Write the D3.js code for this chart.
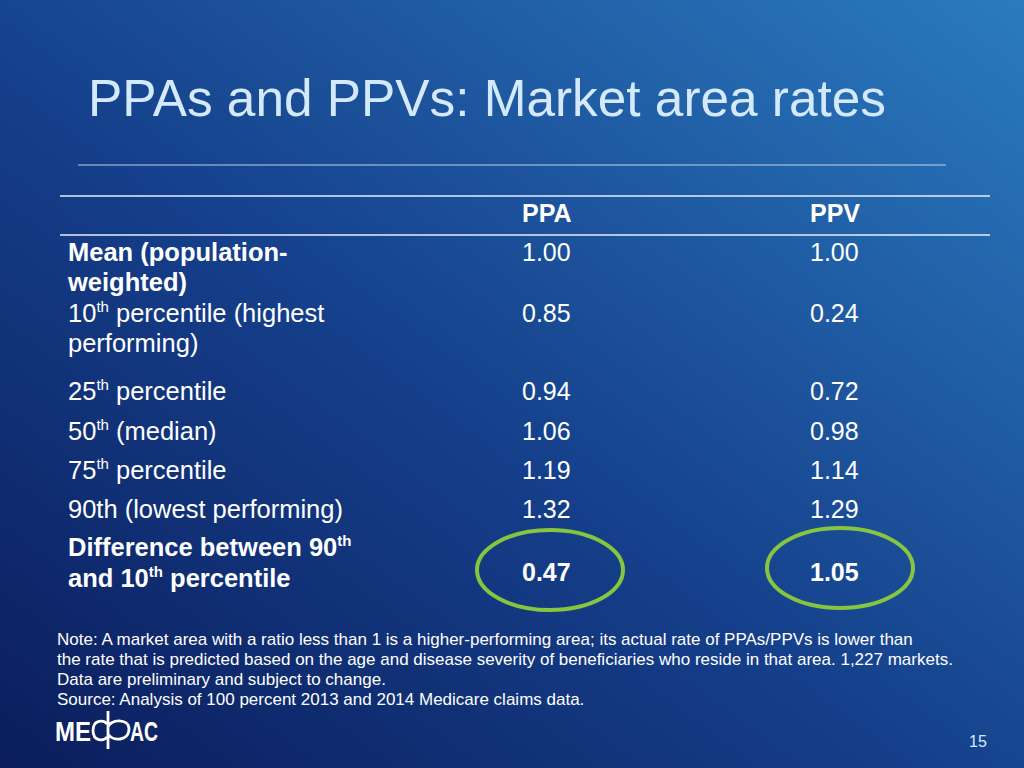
<!DOCTYPE html>
<html><head><meta charset="utf-8">
<script src="https://cdn.jsdelivr.net/npm/d3@7"></script>
<style>html,body{margin:0;padding:0;overflow:hidden;background:#153a82}</style>
</head><body>
<svg id="c" width="1024" height="768"></svg>
<script>
// ---- data ----
const title = "PPAs and PPVs: Market area rates";
const columns = ["PPA", "PPV"];
// row labels: each row is a list of lines; "^th" marks superscript
const rowLabels = [
  ["Mean (population-", "weighted)"],
  ["10^th percentile (highest", "performing)"],
  ["25^th percentile"],
  ["50^th (median)"],
  ["75^th percentile"],
  ["90th (lowest performing)"],
  ["Difference between 90^th", "and 10^th percentile"]
];
const rowBold = [true, false, false, false, false, false, true];
const ppaValues = ["1.00", "0.85", "0.94", "1.06", "1.19", "1.32", "0.47"];
const ppvValues = ["1.00", "0.24", "0.72", "0.98", "1.14", "1.29", "1.05"];
const highlightRows = [6];
const noteLines = [
  "Note: A market area with a ratio less than 1 is a higher-performing area; its actual rate of PPAs/PPVs is lower than",
  "the rate that is predicted based on the age and disease severity of beneficiaries who reside in that area. 1,227 markets.",
  "Data are preliminary and subject to change.",
  "Source: Analysis of 100 percent 2013 and 2014 Medicare claims data."
];
const pageNumber = "15";

// ---- layout ----
const svg = d3.select("#c");
const defs = svg.append("defs");
const grad = defs.append("linearGradient").attr("id","bg")
  .attr("x1","0").attr("y1","1").attr("x2","1").attr("y2","0");
grad.append("stop").attr("offset","0%").attr("stop-color","#0b1d5c");
grad.append("stop").attr("offset","45%").attr("stop-color","#153f8a");
grad.append("stop").attr("offset","100%").attr("stop-color","#2b7bbf");
svg.append("rect").attr("width",1024).attr("height",768).attr("fill","url(#bg)");

const font = "'Liberation Sans', Arial, sans-serif";

svg.append("text").attr("x",88).attr("y",116).text(title)
  .attr("font-family",font).attr("font-size",52).attr("fill","#d4eafc")
  .attr("textLength",798).attr("lengthAdjust","spacingAndGlyphs");

svg.append("line").attr("x1",78).attr("x2",946).attr("y1",165).attr("y2",165)
  .attr("stroke","#dfeaf6").attr("stroke-width",1.2).attr("opacity",0.85);

// table rules
[196, 235].forEach(y => svg.append("line").attr("x1",60).attr("x2",990).attr("y1",y).attr("y2",y)
  .attr("stroke","#e6eef8").attr("stroke-width",1.5));

const colX = d3.scalePoint().domain(columns).range([522, 810]);
const fs = 25;
const labelFs = 25.5;

svg.selectAll("text.hdr").data(columns).join("text").attr("class","hdr")
  .attr("x", d => colX(d)).attr("y", 222).text(d => d)
  .attr("font-family",font).attr("font-size",fs).attr("font-weight","bold").attr("fill","#fff");

// row baseline positions (first line)
const rowIndex = d3.range(rowLabels.length);
const rowY = d3.scaleOrdinal().domain(rowIndex).range([261, 322, 400, 440, 479, 518, 556]);
const lineGap = 30;

function addRich(g, str, x, y, bold){
  const t = g.append("text").attr("x",x).attr("y",y)
    .attr("font-family",font).attr("font-size",labelFs).attr("fill","#fff")
    .attr("font-weight", bold ? "bold" : "normal");
  const parts = str.split(/\^(th)/);
  parts.forEach((p,i) => {
    if (i % 2 === 1) {
      t.append("tspan").attr("font-size",15).attr("dy",-10).text(p);
    } else if (p.length) {
      const ts = t.append("tspan").text(p);
      if (i > 0) ts.attr("dy",10);
    }
  });
}

rowIndex.forEach(i => {
  const g = svg.append("g");
  rowLabels[i].forEach((ln, k) => addRich(g, ln, 68, rowY(i) + k*lineGap + (i===6 && k===1 ? 1 : 0), rowBold[i]));
  const hl = highlightRows.includes(i);
  const vy = hl ? 581 : rowY(i);
  [[ppaValues, "PPA"], [ppvValues, "PPV"]].forEach(([vals, col]) => {
    g.append("text").attr("x", colX(col)).attr("y", vy).text(vals[i])
      .attr("font-family",font).attr("font-size",fs).attr("fill","#fff")
      .attr("font-weight", hl ? "bold" : "normal");
  });
  if (hl) {
    [["PPA",28,570],["PPV",30,568]].forEach(([col,dx,cy]) => {
      g.append("ellipse").attr("cx", colX(col) + dx).attr("cy",cy)
        .attr("rx",73).attr("ry",40).attr("fill","none")
        .attr("stroke","#86c540").attr("stroke-width",4);
    });
  }
});

// notes
svg.selectAll("text.note").data(noteLines).join("text").attr("class","note")
  .attr("x",57).attr("y",(d,i)=>645 + i*20).text(d=>d)
  .attr("font-family",font).attr("font-size",17).attr("fill","#fff");

// logo
const logo = svg.append("g").attr("fill","#fff");
logo.append("text").attr("x",55).attr("y",741).text("ME")
  .attr("font-family",font).attr("font-size",27).attr("font-weight","bold")
  .attr("textLength",36).attr("lengthAdjust","spacingAndGlyphs");
// stylised "d/p" glyph: C-bowl + shared stem + p-bowl
logo.append("path").attr("fill","none").attr("stroke","#fff").attr("stroke-width",2.8)
  .attr("d","M107,724 C104,720 93,719 93,730.5 C93,742 104,741 107,737 M108,711 L108,749 M108,727 C110,719 129,718 129,729 C129,741 113,742 108,734");
logo.append("text").attr("x",130).attr("y",741).text("AC")
  .attr("font-family",font).attr("font-size",27).attr("font-weight","bold")
  .attr("textLength",28).attr("lengthAdjust","spacingAndGlyphs");

svg.append("text").attr("x",969).attr("y",747).text(pageNumber)
  .attr("font-family",font).attr("font-size",16).attr("fill","#d4eafc");
</script>
</body></html>
